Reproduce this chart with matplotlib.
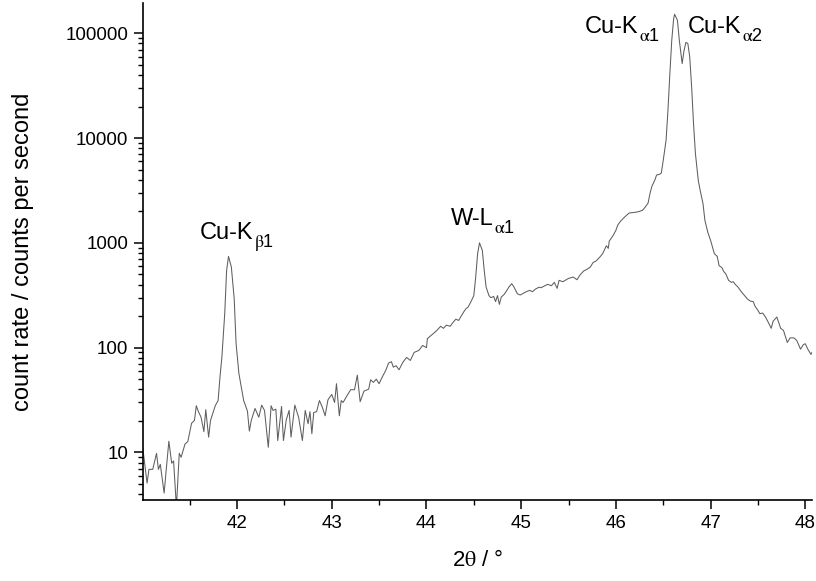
import matplotlib
matplotlib.use("Agg")
import matplotlib.pyplot as plt
from matplotlib.transforms import IdentityTransform
from matplotlib.ticker import LogLocator, FuncFormatter, MultipleLocator, NullFormatter

plt.rcParams["font.family"] = ["Liberation Sans", "DejaVu Sans"]
plt.rcParams["mathtext.fontset"] = "stix"

# 2theta in degrees
two_theta = [
    41.00, 41.03, 41.05, 41.07, 41.11, 41.15, 41.17, 41.19, 41.23, 41.28,
    41.31, 41.33, 41.36, 41.39, 41.41, 41.45, 41.48, 41.52, 41.55, 41.57,
    41.59, 41.62, 41.65, 41.67, 41.70, 41.72, 41.77, 41.80, 41.82, 41.84,
    41.87, 41.89, 41.91, 41.94, 41.97, 41.99, 42.02, 42.07, 42.11, 42.13,
    42.15, 42.19, 42.23, 42.26, 42.29, 42.33, 42.36, 42.38, 42.41, 42.43,
    42.47, 42.49, 42.52, 42.55, 42.57, 42.61, 42.65, 42.69, 42.72, 42.75,
    42.77, 42.79, 42.81, 42.84, 42.87, 42.90, 42.93, 42.96, 43.00, 43.03,
    43.05, 43.08, 43.10, 43.12, 43.16, 43.20, 43.24, 43.27, 43.30, 43.34,
    43.39, 43.41, 43.44, 43.47, 43.50, 43.53, 43.57, 43.60, 43.63, 43.65,
    43.68, 43.71, 43.75, 43.79, 43.83, 43.87, 43.92, 43.96, 44.00, 44.01,
    44.11, 44.15, 44.18, 44.21, 44.25, 44.28, 44.31, 44.34, 44.37, 44.39,
    44.42, 44.44, 44.47, 44.50, 44.52, 44.54, 44.56, 44.59, 44.61, 44.63,
    44.66, 44.68, 44.71, 44.73, 44.75, 44.77, 44.79, 44.82, 44.84, 44.87,
    44.90, 44.92, 44.96, 44.99, 45.04, 45.07, 45.09, 45.12, 45.15, 45.19,
    45.21, 45.25, 45.28, 45.32, 45.35, 45.38, 45.40, 45.44, 45.50, 45.55,
    45.59, 45.62, 45.66, 45.70, 45.73, 45.76, 45.79, 45.83, 45.86, 45.88,
    45.90, 45.92, 45.93, 45.97, 46.00, 46.02, 46.05, 46.10, 46.14, 46.20,
    46.24, 46.28, 46.31, 46.34, 46.36, 46.38, 46.41, 46.43, 46.46, 46.48,
    46.50, 46.53, 46.55, 46.57, 46.59, 46.61, 46.62, 46.65, 46.67, 46.70,
    46.72, 46.74, 46.76, 46.78, 46.80, 46.82, 46.84, 46.87, 46.89, 46.92,
    46.94, 46.97, 47.00, 47.04, 47.07, 47.09, 47.12, 47.14, 47.16, 47.19,
    47.22, 47.24, 47.26, 47.29, 47.33, 47.36, 47.39, 47.42, 47.45, 47.47,
    47.50, 47.52, 47.55, 47.58, 47.61, 47.64, 47.66, 47.70, 47.74, 47.77,
    47.81, 47.84, 47.88, 47.91, 47.95, 47.98, 48.00, 48.03, 48.06, 48.07,
]

# count rate in counts per second
counts = [
    12, 7.2, 5.1, 6.9, 6.9, 9.8, 6.9, 7.7, 4.1, 12.8,
    7.9, 8.3, 3.0, 9.8, 9.0, 12, 12.7, 19, 20.2, 27.9,
    24.8, 21.7, 15.8, 25.6, 14.0, 20.2, 27.9, 31.3, 52.4, 81.3,
    211, 546, 743, 588, 293, 109, 56.4, 31.3, 24.8, 16.0,
    20.2, 26.3, 21.7, 28.3, 25.2, 11.2, 27.9, 25.2, 25.9, 13.0,
    27.5, 13.0, 20.5, 25.2, 14.0, 28.3, 21.7, 13.0, 25.2, 18.8,
    24.5, 15.1, 24.1, 24.5, 31.3, 27.1, 22.4, 31.8, 35.8, 30.0,
    45.3, 22.4, 31.3, 30.0, 34.7, 39.7, 39.7, 54.7, 30.5, 38.5,
    40.2, 49.4, 46.6, 50.1, 45.3, 51.7, 60.7, 71.3, 73.5, 65.2,
    67.3, 61.5, 72.3, 80.7, 75.5, 90.1, 94.2, 105, 100, 122,
    146, 160, 153, 164, 160, 174, 187, 182, 202, 217,
    237, 244, 275, 314, 472, 788, 1000, 848, 546, 378,
    314, 300, 308, 275, 314, 259, 304, 322, 342, 378,
    408, 385, 327, 318, 337, 347, 352, 342, 362, 378,
    373, 390, 402, 390, 420, 368, 439, 426, 458, 472,
    445, 493, 539, 563, 588, 651, 670, 731, 788, 861,
    940, 886, 1040, 1172, 1316, 1479, 1615, 1791, 1926, 1955,
    1986, 2043, 2197, 2398, 2950, 3462, 3950, 4440, 4508, 4640,
    6130, 9520, 18400, 41200, 85700, 138000, 152000, 133000, 85700, 51400,
    68900, 82000, 79800, 59400, 30700, 13700, 7110, 3950, 3170, 2366,
    1640, 1268, 1057, 788, 743, 606, 580, 531, 508, 439,
    420, 426, 402, 378, 337, 313, 291, 278, 275, 248,
    227, 211, 214, 196, 174, 153, 179, 196, 153, 146,
    112, 124, 124, 117, 96.8, 107, 109, 95.5, 86.3, 90,
]

# peak labels: main part, subscript, anchor (left, baseline) in data units
peak_main = ["Cu-K", "Cu-K", "W-L", "Cu-K"]
peak_sub = [r"$\mathrm{\alpha}$1", r"$\mathrm{\alpha}$2", r"$\mathrm{\alpha}$1", r"$\mathrm{\beta}$1"]
peak_x = [45.67, 46.76, 44.26, 41.61]
peak_y = [100000, 100000, 1470, 1100]

fig = plt.figure(figsize=(8.16, 5.81), dpi=100)
ax = fig.add_axes([0.175, 0.139, 0.82, 0.856])

ax.plot(two_theta, counts, color="#5e5e5e", linewidth=0.75)
ax.set_yscale("log")
ax.set_xlim(41.005, 48.07)
ax.set_ylim(3.5, 195000)

ax.spines["top"].set_visible(False)
ax.spines["right"].set_visible(False)
for s in ("left", "bottom"):
    ax.spines[s].set_linewidth(1.2)

ax.xaxis.set_major_locator(MultipleLocator(1))
ax.xaxis.set_minor_locator(MultipleLocator(0.5))
ax.yaxis.set_major_locator(LogLocator(base=10, numticks=10))
ax.yaxis.set_minor_locator(LogLocator(base=10, subs=range(2, 10), numticks=20))
ax.yaxis.set_major_formatter(FuncFormatter(lambda v, p: f"{v:.0f}"))
ax.yaxis.set_minor_formatter(NullFormatter())

ax.tick_params(which="major", direction="out", length=6.5, width=1.1, labelsize=13.5, pad=4)
ax.tick_params(which="minor", direction="out", length=3.5, width=1.0)

# main label, then a larger-than-mathtext subscript right after it
renderer = fig.canvas.get_renderer()
for main, sub, x, y in zip(peak_main, peak_sub, peak_x, peak_y):
    t = ax.text(x, y, main, fontsize=17, ha="left", va="baseline")
    bb = t.get_window_extent(renderer)
    _, y_disp = ax.transData.transform((x, y))
    ax.text(bb.x1 + 0.5, y_disp - 8, sub, transform=IdentityTransform(),
            fontsize=13, ha="left", va="baseline")

ax.set_xlabel(r"2$\mathrm{\theta}$ / °", fontsize=16)
ax.set_ylabel("count rate / counts per second", fontsize=17)
ax.xaxis.set_label_coords(0.5, -0.10)
ax.yaxis.set_label_coords(-0.162, 0.5)

fig.savefig("out.png", dpi=100)
